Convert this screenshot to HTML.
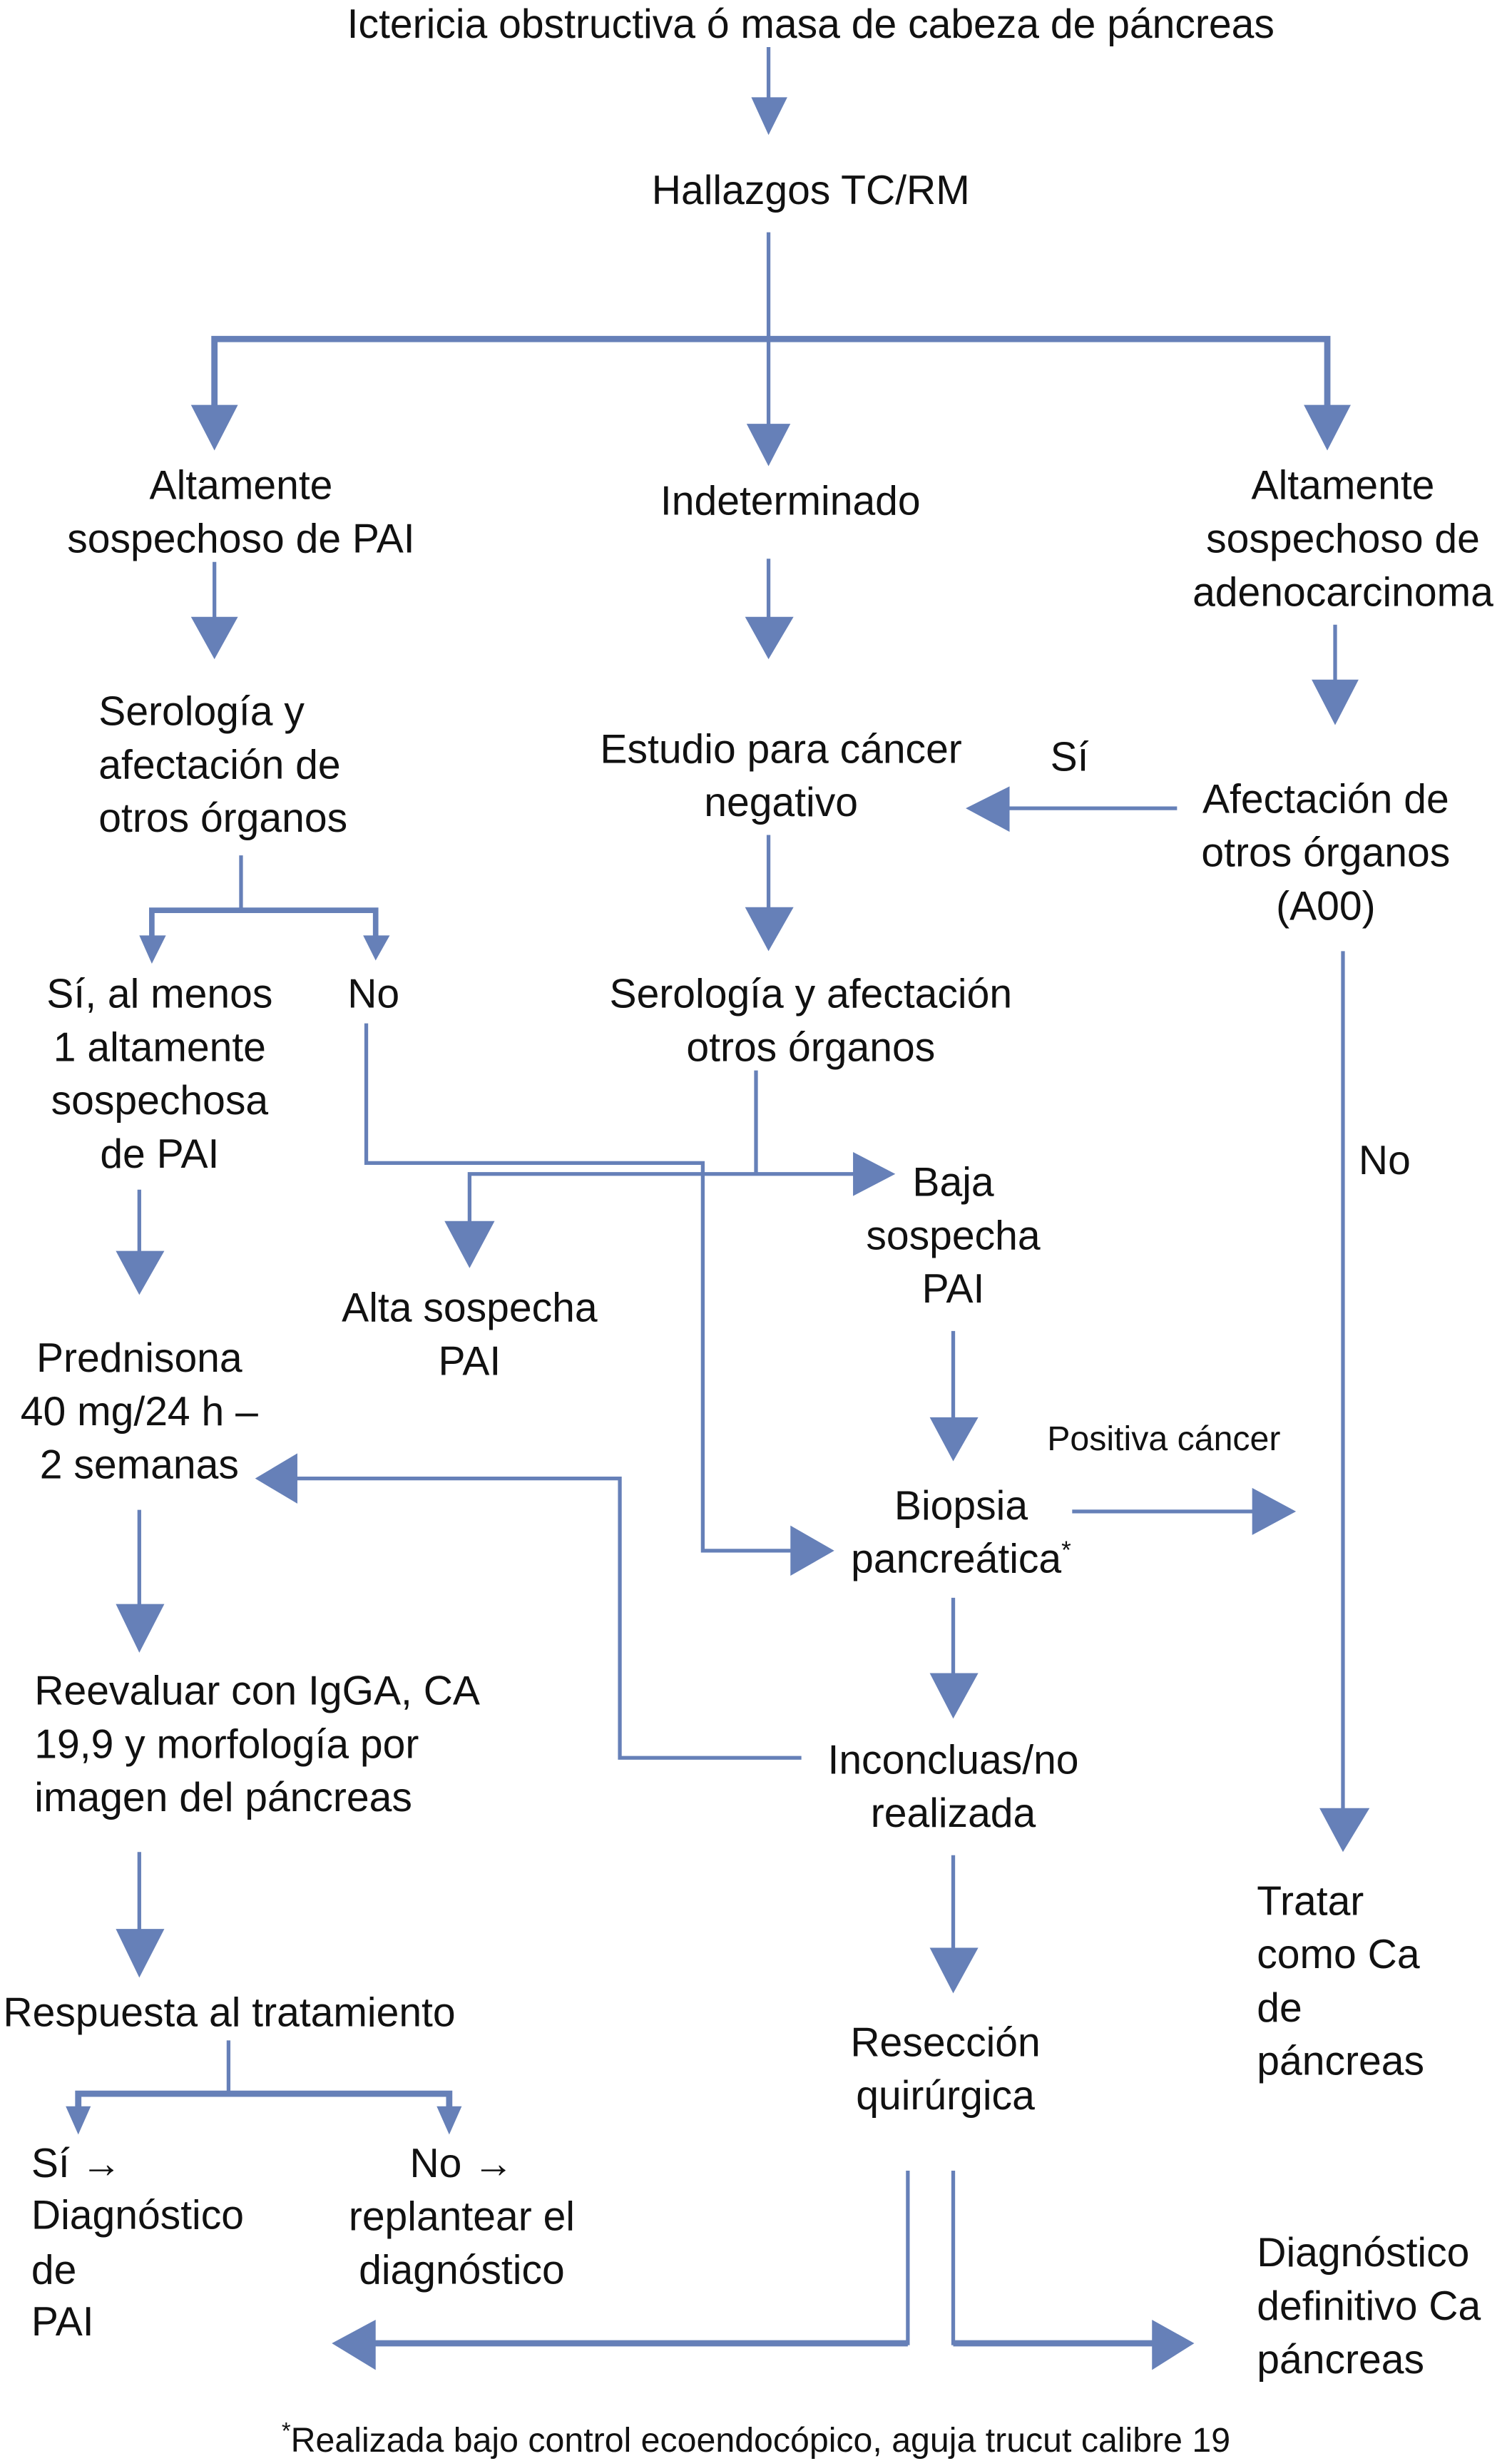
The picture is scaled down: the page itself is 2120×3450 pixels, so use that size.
<!DOCTYPE html>
<html><head><meta charset="utf-8"><style>
html,body{margin:0;padding:0;background:#fff;width:2120px;height:3450px;overflow:hidden}
svg{display:block}
text{font-family:"Liberation Sans",Arial,sans-serif;font-size:26px;fill:#111}
.c{text-anchor:middle}
</style></head><body>
<svg width="2120" height="3450" viewBox="0 0 966 1568" preserveAspectRatio="none" xmlns="http://www.w3.org/2000/svg">
<g stroke="#6680b8" stroke-width="2.4" fill="none">
<line x1="491" y1="30" x2="491" y2="64"/>
<line x1="491" y1="148" x2="491" y2="272"/>
<polyline points="137,262 137,216 848,216 848,262" stroke-width="4"/>
<line x1="137" y1="358" x2="137" y2="395"/>
<line x1="491" y1="356" x2="491" y2="395"/>
<line x1="853" y1="398" x2="853" y2="436"/>
<line x1="752" y1="515" x2="640" y2="515"/>
<line x1="154" y1="545" x2="154" y2="580"/>
<polyline points="97,598 97,580 240,580 240,598" stroke-width="3.5"/>
<line x1="491" y1="532" x2="491" y2="580"/>
<line x1="858" y1="606" x2="858" y2="1155"/>
<polyline points="234,652 234,741 449,741 449,988 508,988"/>
<line x1="483" y1="682" x2="483" y2="748"/>
<polyline points="300,782 300,748 548,748"/>
<line x1="89" y1="758" x2="89" y2="800"/>
<polyline points="512,1120 396,1120 396,942 186,942"/>
<line x1="609" y1="848" x2="609" y2="905"/>
<line x1="685" y1="963" x2="803" y2="963"/>
<line x1="609" y1="1018" x2="609" y2="1068"/>
<line x1="89" y1="962" x2="89" y2="1024"/>
<line x1="609" y1="1182" x2="609" y2="1243"/>
<line x1="89" y1="1180" x2="89" y2="1230"/>
<line x1="146" y1="1300" x2="146" y2="1334"/>
<polyline points="50,1344 50,1334 287,1334 287,1344" stroke-width="4"/>
<polyline points="580,1383 580,1493 238,1493" stroke-width="2.4"/>
<line x1="580" y1="1493" x2="238" y2="1493" stroke-width="4"/>
<polyline points="609,1383 609,1493 740,1493"/>
<line x1="609" y1="1493" x2="740" y2="1493" stroke-width="4"/>
</g>
<g fill="#6680b8">
<polygon points="480,62 503,62 491,86"/>
<polygon points="477,270 505,270 491,297"/>
<polygon points="122,258 152,258 137,287"/>
<polygon points="833,258 863,258 848,287"/>
<polygon points="122,393 152,393 137,420"/>
<polygon points="476,393 507,393 491,420"/>
<polygon points="838,433 868,433 853,462"/>
<polygon points="645,501 645,530 617,515"/>
<polygon points="89,596 106,596 97,614"/>
<polygon points="232,596 249,596 240,612"/>
<polygon points="476,578 507,578 491,606"/>
<polygon points="843,1152 875,1152 858,1180"/>
<polygon points="505,972 505,1004 533,988"/>
<polygon points="545,734 545,762 572,748"/>
<polygon points="284,778 316,778 300,808"/>
<polygon points="74,797 105,797 89,825"/>
<polygon points="190,926 190,958 163,942"/>
<polygon points="594,903 625,903 609,931"/>
<polygon points="800,948 800,978 828,963"/>
<polygon points="594,1066 625,1066 609,1095"/>
<polygon points="74,1022 105,1022 89,1053"/>
<polygon points="594,1241 625,1241 609,1270"/>
<polygon points="74,1229 105,1229 89,1260"/>
<polygon points="42,1342 58,1342 50,1360"/>
<polygon points="279,1342 295,1342 287,1360"/>
<polygon points="240,1478 240,1510 212,1493"/>
<polygon points="736,1478 736,1510 763,1493"/>
</g>
<text class="c" x="518" y="24">Ictericia obstructiva ó masa de cabeza de páncreas</text>
<text class="c" x="518" y="130">Hallazgos TC/RM</text>
<text class="c" x="154" y="318">Altamente</text>
<text class="c" x="154" y="352">sospechoso de PAI</text>
<text class="c" x="505" y="328">Indeterminado</text>
<text class="c" x="858" y="318">Altamente</text>
<text class="c" x="858" y="352">sospechoso de</text>
<text class="c" x="858" y="386">adenocarcinoma</text>
<text x="63" y="462">Serología y</text>
<text x="63" y="496">afectación de</text>
<text x="63" y="530">otros órganos</text>
<text class="c" x="499" y="486">Estudio para cáncer</text>
<text class="c" x="499" y="520">negativo</text>
<text x="671" y="491">Sí</text>
<text class="c" x="847" y="518">Afectación de</text>
<text class="c" x="847" y="552">otros órganos</text>
<text class="c" x="847" y="586">(A00)</text>
<text class="c" x="102" y="642">Sí, al menos</text>
<text class="c" x="102" y="676">1 altamente</text>
<text class="c" x="102" y="710">sospechosa</text>
<text class="c" x="102" y="744">de PAI</text>
<text x="222" y="642">No</text>
<text class="c" x="518" y="642">Serología y afectación</text>
<text class="c" x="518" y="676">otros órganos</text>
<text x="868" y="748">No</text>
<text class="c" x="609" y="762">Baja</text>
<text class="c" x="609" y="796">sospecha</text>
<text class="c" x="609" y="830">PAI</text>
<text class="c" x="300" y="842">Alta sospecha</text>
<text class="c" x="300" y="876">PAI</text>
<text class="c" x="89" y="874">Prednisona</text>
<text class="c" x="89" y="908">40 mg/24 h –</text>
<text class="c" x="89" y="942">2 semanas</text>
<text x="669" y="924" style="font-size:22px">Positiva cáncer</text>
<text class="c" x="614" y="968">Biopsia</text>
<text class="c" x="614" y="1002">pancreática<tspan dy="-9" style="font-size:16px">*</tspan></text>
<text x="22" y="1086">Reevaluar con IgGA, CA</text>
<text x="22" y="1120">19,9 y morfología por</text>
<text x="22" y="1154">imagen del páncreas</text>
<text class="c" x="609" y="1130">Inconcluas/no</text>
<text class="c" x="609" y="1164">realizada</text>
<text x="803" y="1220">Tratar</text>
<text x="803" y="1254">como Ca</text>
<text x="803" y="1288">de</text>
<text x="803" y="1322">páncreas</text>
<text x="2" y="1291">Respuesta al tratamiento</text>
<text class="c" x="604" y="1310">Resección</text>
<text class="c" x="604" y="1344">quirúrgica</text>
<text x="20" y="1387">Sí →</text>
<text x="20" y="1420">Diagnóstico</text>
<text x="20" y="1455">de</text>
<text x="20" y="1488">PAI</text>
<text class="c" x="295" y="1387">No →</text>
<text class="c" x="295" y="1421">replantear el</text>
<text class="c" x="295" y="1455">diagnóstico</text>
<text x="803" y="1444">Diagnóstico</text>
<text x="803" y="1478">definitivo Ca</text>
<text x="803" y="1512">páncreas</text>
<text class="c" x="483" y="1562" style="font-size:22px"><tspan dy="-8" style="font-size:15px">*</tspan><tspan dy="8">Realizada bajo control ecoendocópico, aguja trucut calibre 19</tspan></text>
</svg>
</body></html>
